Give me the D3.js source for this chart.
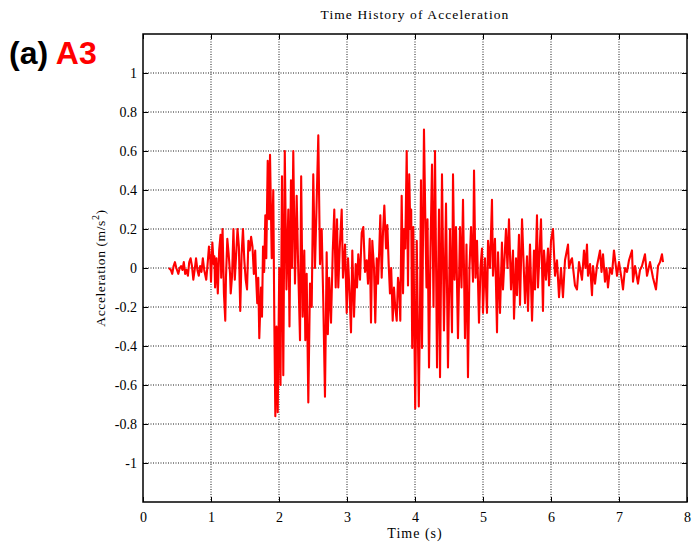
<!DOCTYPE html>
<html>
<head>
<meta charset="utf-8">
<script src="https://cdn.jsdelivr.net/npm/d3@7"></script>
<style>
  body { margin: 0; background: #fff; }
  .tick text { font-family: "Liberation Serif", "Times New Roman", serif; font-size: 14px; fill: #000; }
  .grid line { stroke: #000; stroke-dasharray: 1, 1.5; stroke-width: 0.9; }
  .line { fill: none; stroke: #ff0000; stroke-width: 2.1; stroke-linejoin: round; }
</style>
</head>
<body>
<div id="chart"></div>
<script>
// tick values and labels
var xTicks = [0, 1, 2, 3, 4, 5, 6, 7, 8];
var yTicks = [-1, -0.8, -0.6, -0.4, -0.2, 0, 0.2, 0.4, 0.6, 0.8, 1];
var yTickLabels = ["-1", "-0.8", "-0.6", "-0.4", "-0.2", "0", "0.2", "0.4", "0.6", "0.8", "1"];

// record: time (s) of each turning point
var times = [
  0.38, 0.41, 0.43, 0.45, 0.47, 0.49, 0.52, 0.54, 0.56, 0.58, 0.60, 0.62, 0.64, 0.66, 0.68,
  0.70, 0.72, 0.74, 0.76, 0.78, 0.80, 0.82, 0.84, 0.86, 0.88, 0.90, 0.93, 0.95, 0.97, 0.99,
  1.00, 1.02, 1.04, 1.05, 1.06, 1.08, 1.10, 1.12, 1.14, 1.15, 1.17, 1.19, 1.21, 1.22, 1.24,
  1.26, 1.28, 1.29, 1.31, 1.33, 1.35, 1.37, 1.39, 1.41, 1.43, 1.45, 1.47, 1.49, 1.51, 1.53,
  1.55, 1.57, 1.59, 1.61, 1.63, 1.65, 1.66, 1.68, 1.695, 1.71, 1.735, 1.75,
  1.765, 1.782, 1.799, 1.813, 1.834, 1.853, 1.868, 1.893, 1.916, 1.931, 1.946, 1.963, 1.981,
  2.004, 2.022, 2.044, 2.063, 2.085, 2.110, 2.137, 2.154, 2.176, 2.191, 2.210, 2.235, 2.260,
  2.279, 2.309, 2.326, 2.349, 2.372, 2.387, 2.407, 2.431, 2.456, 2.481, 2.504, 2.529, 2.551,
  2.578, 2.603, 2.628, 2.651, 2.676, 2.701, 2.718, 2.738, 2.765, 2.790, 2.813, 2.834, 2.853,
  2.872, 2.893, 2.922, 2.941, 2.971, 2.996, 3.015, 3.034, 3.059, 3.078, 3.103, 3.128, 3.147,
  3.166, 3.191, 3.216, 3.240, 3.265, 3.290, 3.309, 3.334, 3.353, 3.372, 3.397, 3.416, 3.437,
  3.456, 3.475, 3.490, 3.510, 3.529, 3.549, 3.574, 3.593, 3.613, 3.632, 3.650, 3.672, 3.691,
  3.709, 3.731, 3.750, 3.768, 3.784, 3.804, 3.824, 3.841, 3.857, 3.878, 3.897, 3.915, 3.931,
  3.944, 3.959, 3.975, 4.003, 4.026, 4.056, 4.074, 4.088, 4.103, 4.132, 4.154, 4.169, 4.184,
  4.206, 4.228, 4.250, 4.272, 4.294, 4.324, 4.353, 4.368, 4.397, 4.426, 4.456, 4.485, 4.515,
  4.544, 4.559, 4.581, 4.603, 4.632, 4.662, 4.684, 4.706, 4.735, 4.757, 4.779, 4.801, 4.824,
  4.853, 4.868, 4.890, 4.912, 4.941, 4.963, 4.985, 5.000, 5.029, 5.059, 5.074, 5.103, 5.132,
  5.147, 5.176, 5.206, 5.221, 5.250, 5.279, 5.294, 5.338, 5.360, 5.382, 5.412, 5.441, 5.456,
  5.485, 5.500, 5.529, 5.544, 5.574, 5.618, 5.647, 5.662, 5.691, 5.721, 5.750, 5.765, 5.794,
  5.809, 5.853, 5.882, 5.897, 5.926, 5.956, 5.971, 6.000, 6.029, 6.059, 6.088, 6.118, 6.147,
  6.176, 6.206, 6.250, 6.265, 6.294, 6.309, 6.353, 6.382, 6.412, 6.456, 6.485, 6.507, 6.529,
  6.544, 6.574, 6.603, 6.618, 6.647, 6.676, 6.721, 6.743, 6.765, 6.794, 6.816, 6.838, 6.868,
  6.897, 6.926, 6.971, 7.000, 7.044, 7.059, 7.088, 7.118, 7.147, 7.191, 7.206, 7.235, 7.279,
  7.309, 7.338, 7.382, 7.412, 7.456, 7.500, 7.544, 7.574, 7.603, 7.632, 7.647
];

// acceleration (m/s^2) at each of those times
var accel = [
  0.00, -0.01, -0.03, 0.01, 0.03, 0.00, -0.03, 0.00, 0.01, -0.01, 0.03, -0.03, -0.01, -0.04, 0.03,
  0.05, 0.01, -0.06, -0.01, 0.05, -0.01, -0.04, 0.01, -0.02, 0.05, -0.01, -0.06, 0.02, 0.11, 0.04,
  -0.07, 0.13, 0.02, 0.06, -0.10, 0.05, -0.13, 0.09, 0.17, -0.05, 0.20, -0.13, -0.27, -0.05, 0.15,
  0.07, -0.03, -0.13, -0.04, 0.20, -0.06, 0.07, 0.20, 0.11, -0.22, 0.07, 0.20, 0.04, -0.06, -0.11,
  0.14, 0.09, 0.16, 0.11, -0.03, 0.09, -0.02, -0.18, -0.05, -0.36, -0.10, -0.25,
  0.11, -0.02, 0.27, 0.05, 0.55, 0.25, 0.58, 0.05, 0.40, -0.27, -0.76, -0.30, -0.74,
  0.00, -0.60, 0.47, -0.55, 0.60, -0.11, 0.30, -0.30, 0.45, 0.00, 0.60, -0.08, 0.37,
  0.05, -0.37, 0.47, -0.25, 0.09, -0.37, -0.03, -0.69, -0.08, -0.20, 0.48, 0.00, 0.30,
  0.68, 0.02, 0.20, -0.17, -0.66, 0.08, -0.34, -0.05, -0.28, 0.08, 0.30, -0.10, 0.25,
  -0.10, 0.10, 0.30, -0.05, 0.12, -0.23, 0.05, -0.10, -0.33, 0.09, -0.25, 0.02, -0.10,
  0.07, -0.06, 0.18, 0.21, -0.02, 0.04, -0.08, 0.15, -0.28, 0.14, 0.00, -0.28, 0.05,
  -0.08, 0.10, 0.27, -0.05, 0.18, 0.32, 0.10, 0.22, 0.02, -0.13, 0.00, -0.27, -0.10,
  -0.20, -0.27, -0.05, -0.10, -0.27, 0.37, -0.13, 0.20, 0.10, 0.60, -0.09, 0.48, 0.20,
  0.30, -0.41, 0.21, -0.72, 0.14, -0.71, -0.20, 0.45, -0.41, 0.71, 0.20, -0.10, 0.25,
  -0.51, 0.10, 0.53, -0.20, 0.60, -0.51, 0.30, -0.56, 0.48, -0.32, 0.33, -0.51, 0.20,
  -0.33, 0.48, -0.06, 0.21, -0.36, 0.21, -0.10, 0.35, -0.36, 0.12, -0.56, 0.00, 0.21,
  -0.07, 0.50, -0.05, 0.14, -0.28, 0.00, 0.10, -0.23, 0.05, -0.23, 0.14, 0.00, 0.35,
  -0.04, 0.15, -0.33, 0.08, -0.23, 0.13, -0.11, 0.20, 0.00, 0.25, -0.11, 0.09, -0.26,
  0.05, -0.14, 0.17, -0.19, 0.25, -0.18, 0.06, -0.22, 0.12, -0.27, 0.09, -0.11, 0.27,
  -0.10, 0.25, -0.22, 0.09, -0.06, 0.10, -0.09, 0.14, 0.20, -0.04, 0.04, -0.15, 0.00,
  -0.15, 0.04, 0.12, 0.00, 0.04, 0.05, -0.09, -0.11, 0.03, -0.06, 0.09, 0.00, 0.12,
  -0.04, 0.02, -0.14, 0.01, -0.08, 0.01, 0.09, -0.02, 0.07, -0.07, 0.00, -0.10, 0.00,
  -0.03, 0.09, -0.04, 0.03, -0.07, -0.11, 0.00, -0.02, 0.04, 0.09, -0.07, 0.01, -0.08,
  -0.01, 0.01, 0.07, -0.04, 0.03, -0.05, -0.11, 0.01, 0.03, 0.07, 0.03
];

// set the dimensions and margins of the graph
var margin = { top: 34, right: 5, bottom: 42, left: 143 },
    width = 692 - margin.left - margin.right,
    height = 544 - margin.top - margin.bottom;

var scalex = d3.scaleLinear().domain([0, 8]).range([0, width]);
var scaley = d3.scaleLinear().domain([-1.2, 1.2]).range([height, 0]);

var root = d3.select("#chart").append("svg")
    .attr("width", 692)
    .attr("height", 544);

var svg = root.append("g")
    .attr("transform", "translate(" + margin.left + "," + margin.top + ")");

var data = times.map(function (t, i) { return { time: t, acc: accel[i] }; });

// grid
svg.append("g").attr("class", "grid")
    .selectAll("line").data(xTicks.slice(1, -1)).enter().append("line")
    .attr("x1", function (d) { return scalex(d); })
    .attr("x2", function (d) { return scalex(d); })
    .attr("y1", 0).attr("y2", height);

svg.append("g").attr("class", "grid")
    .selectAll("line").data(yTicks).enter().append("line")
    .attr("y1", function (d) { return scaley(d); })
    .attr("y2", function (d) { return scaley(d); })
    .attr("x1", 0).attr("x2", width);

// the record
var valueline = d3.line()
    .x(function (d) { return scalex(d.time); })
    .y(function (d) { return scaley(d.acc); });

svg.append("path")
    .data([data])
    .attr("class", "line")
    .attr("d", valueline);

// axes, ticks pointing inwards like matlab
svg.append("g")
    .attr("transform", "translate(0," + height + ")")
    .call(d3.axisBottom(scalex).tickValues(xTicks).tickSize(-5).tickPadding(10).tickFormat(d3.format("d")))
    .call(function (g) { g.select(".domain").remove(); });

svg.append("g")
    .call(d3.axisTop(scalex).tickValues(xTicks).tickSize(-5).tickFormat(""))
    .call(function (g) { g.select(".domain").remove(); });

svg.append("g")
    .call(d3.axisLeft(scaley).tickValues(yTicks).tickSize(-5).tickPadding(6)
        .tickFormat(function (d, i) { return yTickLabels[i]; }))
    .call(function (g) { g.select(".domain").remove(); });

svg.append("g")
    .attr("transform", "translate(" + width + ",0)")
    .call(d3.axisRight(scaley).tickValues(yTicks).tickSize(-5).tickFormat(""))
    .call(function (g) { g.select(".domain").remove(); });

svg.selectAll(".tick line").attr("stroke", "#000");

svg.append("rect")
    .attr("width", width).attr("height", height)
    .attr("fill", "none").attr("stroke", "#000").attr("stroke-width", 1.5);

// labels
var serif = "'Liberation Serif', 'Times New Roman', serif";

root.append("text")
    .attr("x", margin.left + width / 2).attr("y", 19)
    .attr("text-anchor", "middle")
    .style("font-family", serif).style("font-size", "13.5px").style("letter-spacing", "1.1px")
    .text("Time History of Acceleration");

root.append("text")
    .attr("x", margin.left + width / 2).attr("y", 538)
    .attr("text-anchor", "middle")
    .style("font-family", serif).style("font-size", "14px").style("letter-spacing", "1px")
    .text("Time (s)");

var ylab = root.append("text")
    .attr("transform", "translate(105," + (margin.top + height / 2) + ") rotate(-90)")
    .attr("text-anchor", "middle")
    .style("font-family", serif).style("font-size", "13.5px").style("letter-spacing", "0.6px");
ylab.append("tspan").text("Acceleration (m/s");
ylab.append("tspan").attr("dy", -6).style("font-size", "10px").text("2");
ylab.append("tspan").attr("dy", 6).text(")");

var tag = root.append("text")
    .attr("x", 9).attr("y", 64)
    .style("font-family", "'Liberation Sans', Arial, sans-serif")
    .style("font-size", "32px").style("font-weight", "bold");
tag.append("tspan").attr("fill", "#000").text("(a) ");
tag.append("tspan").attr("fill", "#ff0000").text("A3");
</script>
</body>
</html>
